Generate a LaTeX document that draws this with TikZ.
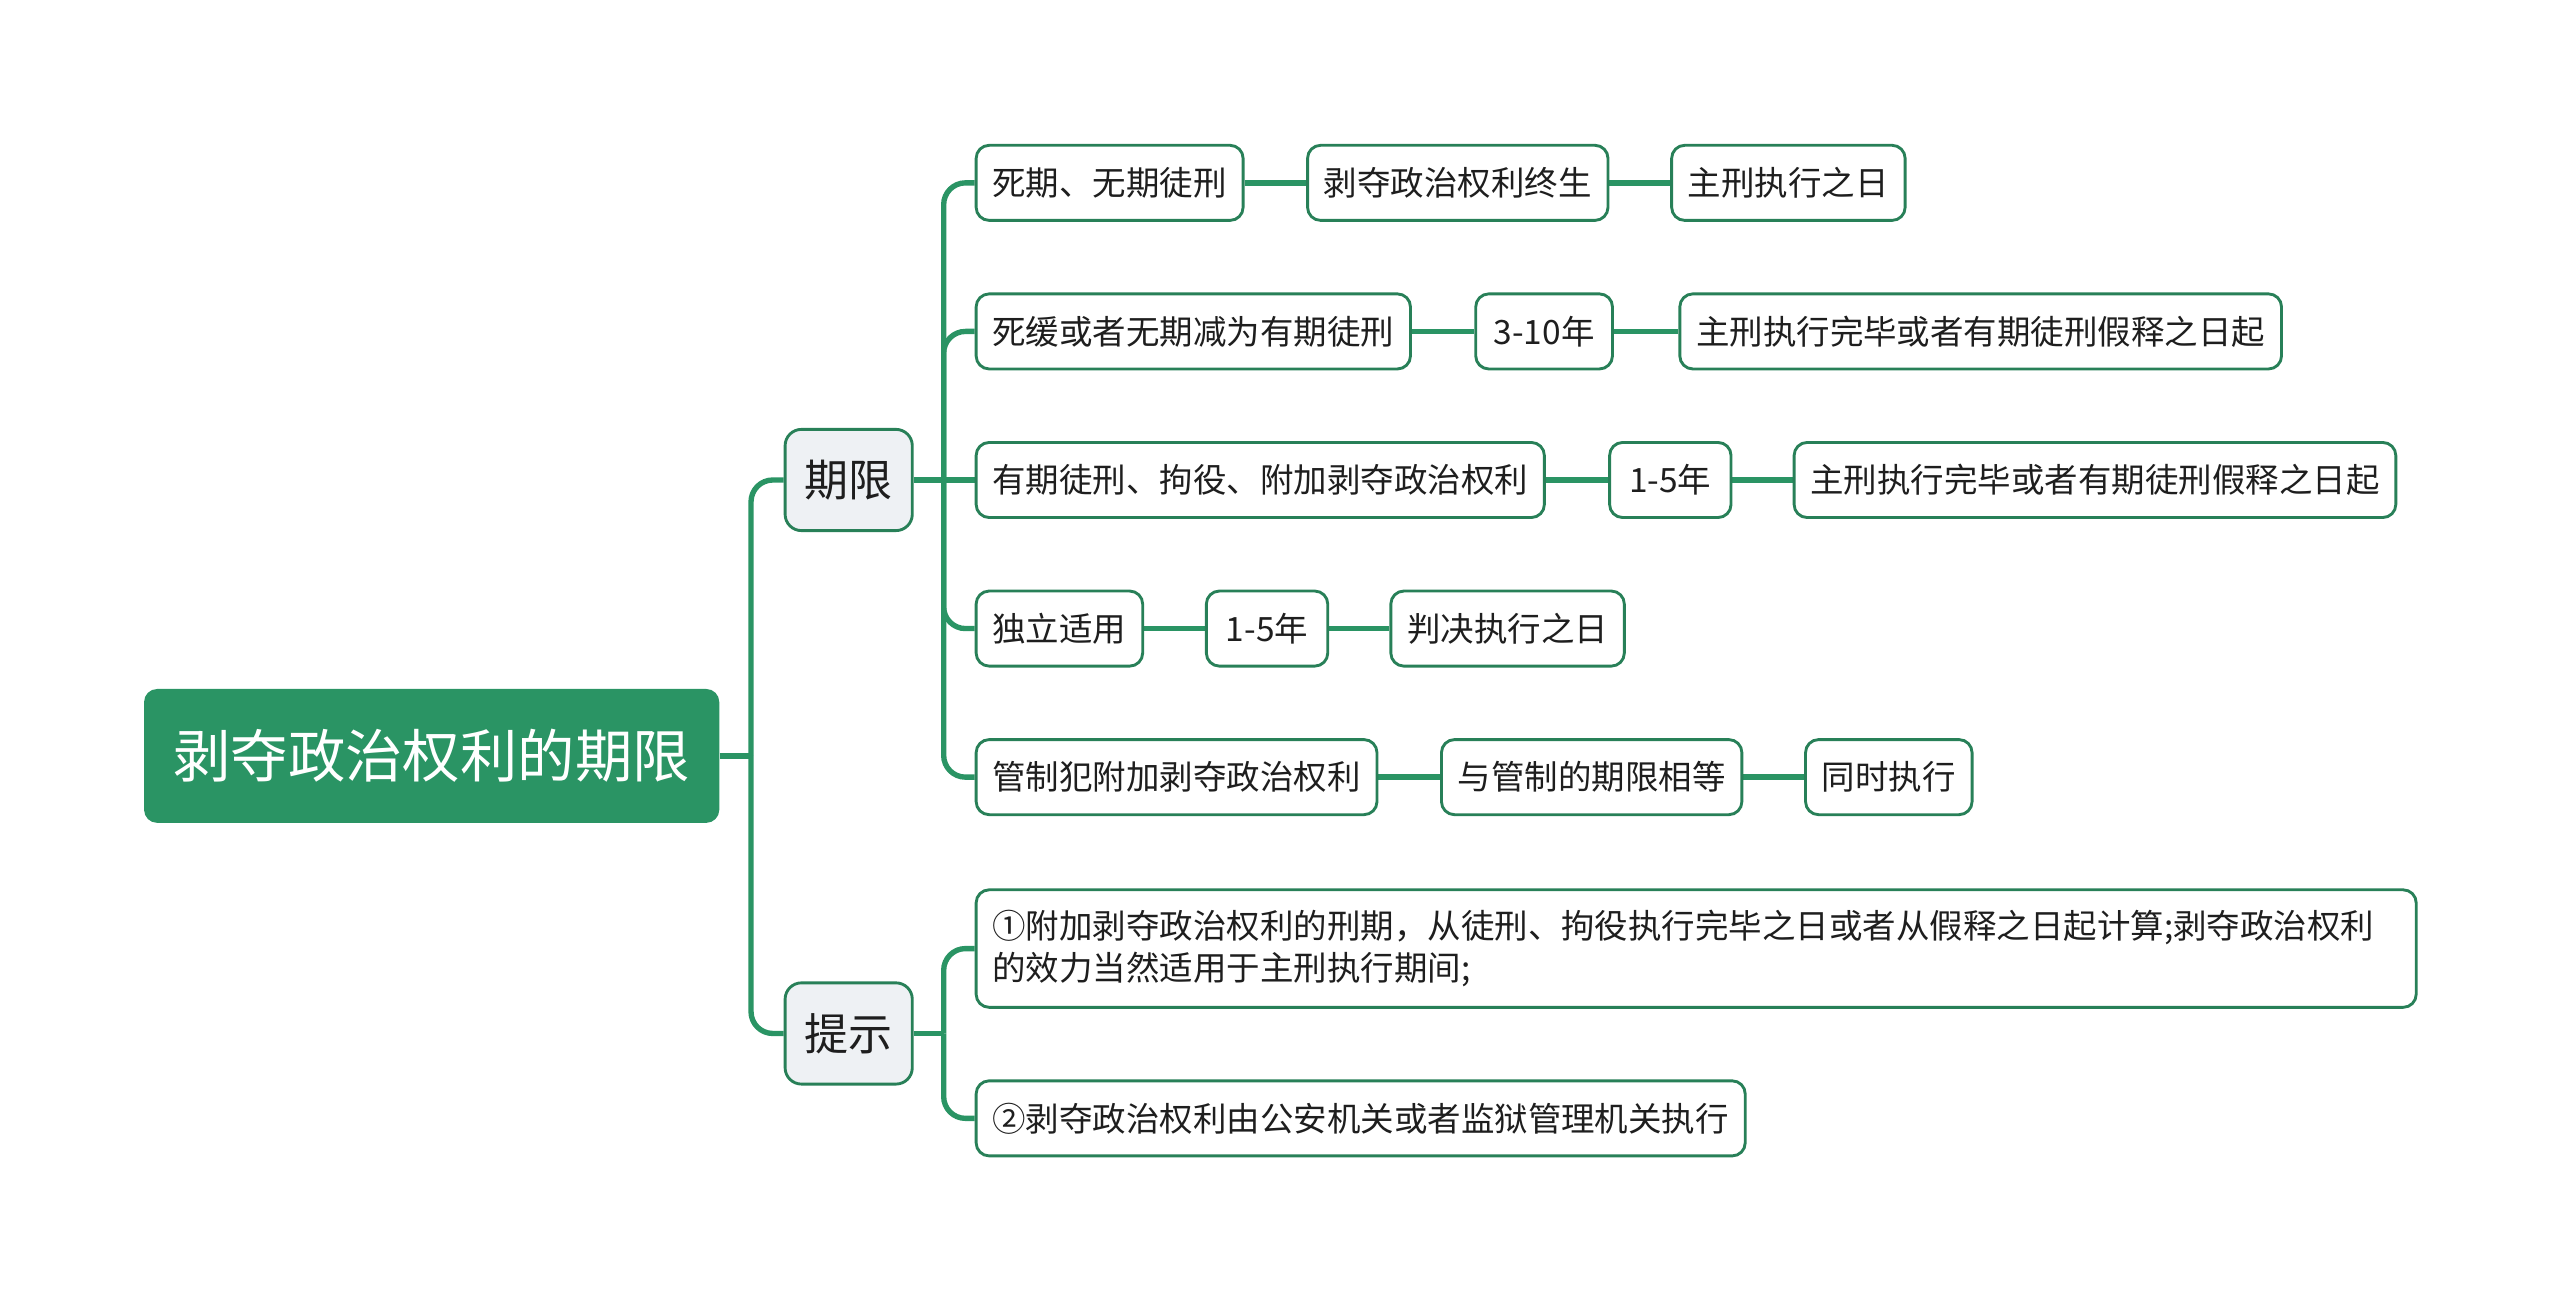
\documentclass[tikz,border=0pt]{standalone}
\usepackage{fontspec}
\setmainfont{Noto Sans CJK SC}
\usepackage{xcolor}
\usepackage{tikz}
\usetikzlibrary{backgrounds}

\definecolor{mapgreen}{RGB}{42,148,100}
\definecolor{boxgreen}{RGB}{40,128,88}
\definecolor{topicgray}{RGB}{238,241,244}
\definecolor{inkgray}{RGB}{30,30,30}

\begin{document}
\begin{tikzpicture}[x=0.03cm, y=-0.03cm,
    rootnode/.style={rectangle, rounded corners=0.24cm, fill=mapgreen, text=white, font=\fontsize{30}{36}\selectfont, inner xsep=0.54cm, minimum height=2.46cm, anchor=west},
    topicnode/.style={rectangle, rounded corners=0.3cm, draw=boxgreen, line width=1.5pt, fill=topicgray, text=inkgray, font=\fontsize{23}{28}\selectfont, inner xsep=0.36cm, minimum height=1.86cm, anchor=west},
    leafnode/.style={rectangle, rounded corners=0.24cm, draw=boxgreen, line width=1.5pt, fill=white, text=inkgray, font=\fontsize{17.5}{22}\selectfont, inner xsep=0.3cm, minimum height=1.38cm, anchor=west},
    link/.style={draw=mapgreen, line width=2.8pt},
    branch/.style={link, rounded corners=0.4cm}]
    \useasboundingbox (0,0) rectangle (1568,797);

    % root and the two topics
    \node[rootnode] (root) at (88,463) {剥夺政治权利的期限};
    \node[topicnode] (qixian) at (480,294) {期限};
    \node[topicnode] (tishi) at (480,633) {提示};

    % 期限
    \node[leafnode] (c1) at (597,112) {死期、无期徒刑};
    \node[leafnode] (c2) at (597,203) {死缓或者无期减为有期徒刑};
    \node[leafnode] (c3) at (597,294) {有期徒刑、拘役、附加剥夺政治权利};
    \node[leafnode] (c4) at (597,385) {独立适用};
    \node[leafnode] (c5) at (597,476) {管制犯附加剥夺政治权利};

    \node[leafnode] (c1a) at (800,112) {剥夺政治权利终生};
    \node[leafnode] (c1b) at (1023,112) {主刑执行之日};
    \node[leafnode, inner xsep=0.33cm] (c2a) at (903,203) {3-10年};
    \node[leafnode] (c2b) at (1028,203) {主刑执行完毕或者有期徒刑假释之日起};
    \node[leafnode, inner xsep=0.36cm] (c3a) at (985,294) {1-5年};
    \node[leafnode] (c3b) at (1098,294) {主刑执行完毕或者有期徒刑假释之日起};
    \node[leafnode, inner xsep=0.36cm] (c4a) at (738,385) {1-5年};
    \node[leafnode] (c4b) at (851,385) {判决执行之日};
    \node[leafnode] (c5a) at (882,476) {与管制的期限相等};
    \node[leafnode] (c5b) at (1105,476) {同时执行};

    % 提示
    \node[leafnode, text width=25.86cm, align=left, minimum height=2.16cm] (t1) at (597,581) {①附加剥夺政治权利的刑期，从徒刑、拘役执行完毕之日或者从假释之日起计算;剥夺政治权利\\的效力当然适用于主刑执行期间;};
    \node[leafnode] (t2) at (597,685) {②剥夺政治权利由公安机关或者监狱管理机关执行};

    \begin{scope}[on background layer]
    \draw[link] (root.east) -- (460,463) coordinate (rj);
    \draw[branch] (rj) |- (qixian.west);
    \draw[branch] (rj) |- (tishi.west);

    \draw[link] (qixian.east) -- (578,294) coordinate (qj);
    \draw[branch] (qj) |- (c1.west);
    \draw[branch] (qj) |- (c2.west);
    \draw[link] (qj) -- (c3.west);
    \draw[branch] (qj) |- (c4.west);
    \draw[branch] (qj) |- (c5.west);

    \draw[link] (tishi.east) -- (578,633) coordinate (tj);
    \draw[branch] (tj) |- (t1.west);
    \draw[branch] (tj) |- (t2.west);

    \draw[link] (c1) -- (c1a); \draw[link] (c1a) -- (c1b);
    \draw[link] (c2) -- (c2a); \draw[link] (c2a) -- (c2b);
    \draw[link] (c3) -- (c3a); \draw[link] (c3a) -- (c3b);
    \draw[link] (c4) -- (c4a); \draw[link] (c4a) -- (c4b);
    \draw[link] (c5) -- (c5a); \draw[link] (c5a) -- (c5b);
    \end{scope}
\end{tikzpicture}
\end{document}
